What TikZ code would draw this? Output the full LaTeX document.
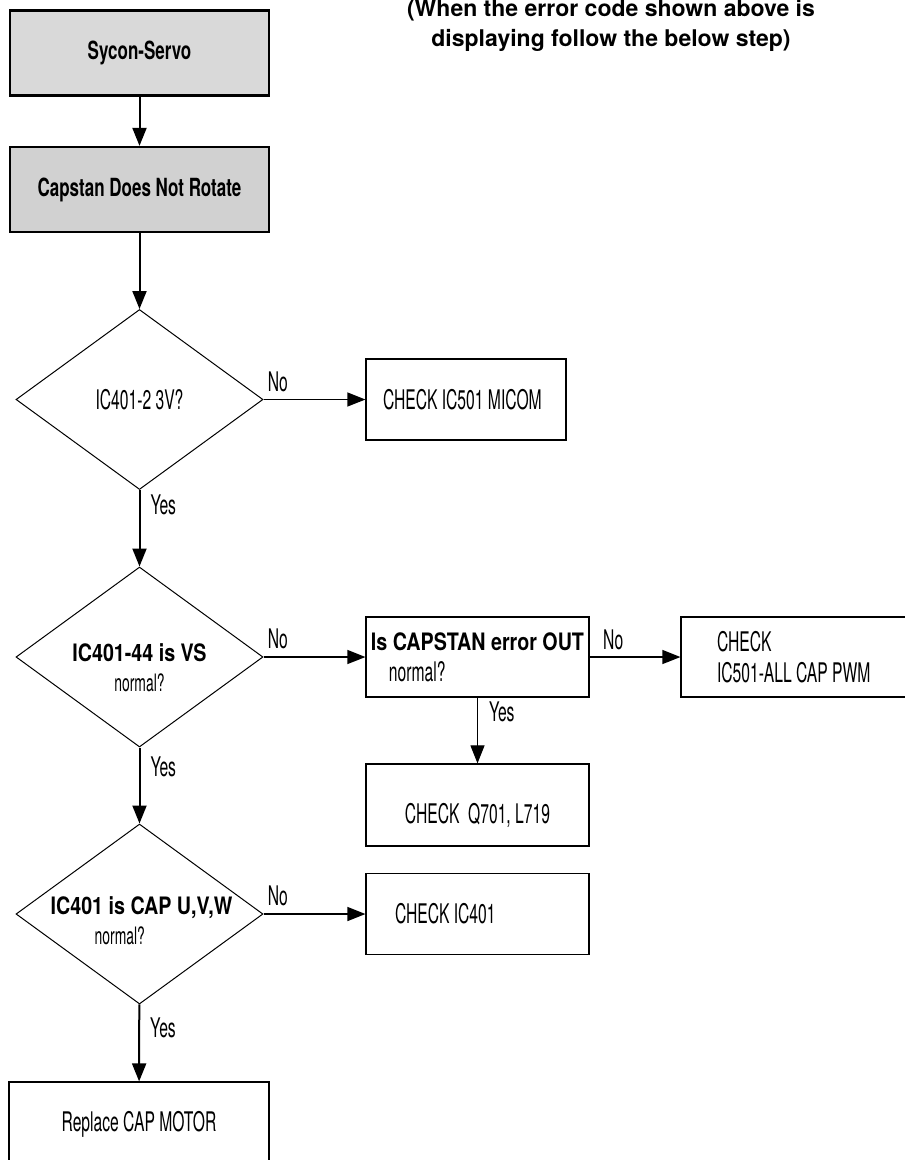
\documentclass[tikz,border=0pt]{standalone}
\usepackage{fontspec}
\setmainfont{TeX Gyre Heros}[FakeStretch=0.58]
\newfontfamily\headfont{TeX Gyre Heros}[FakeStretch=0.68]
\newfontfamily\askfont{TeX Gyre Heros}[FakeStretch=0.82]
\newfontfamily\notefont{TeX Gyre Heros}
\usetikzlibrary{arrows.meta,shapes.geometric}

\definecolor{boxgray}{RGB}{217,217,217}
\definecolor{boxgraydark}{RGB}{209,209,209}

\tikzset{
    every node/.style = {inner sep=0pt},
    startbox/.style = {draw, line width=2.3pt, minimum width=259pt, minimum height=85pt,
        font=\headfont\bfseries\fontsize{25}{30}\selectfont},
    checkbox/.style = {draw, line width=1.2pt, minimum height=81pt},
    decision/.style = {draw, diamond, line width=1pt, minimum width=247pt, minimum height=180pt},
    asktext/.style = {font=\askfont\bfseries\fontsize{24}{30}\selectfont},
    flow/.style = {-{Triangle[length=18pt,width=14pt]}, line width=2pt},
    side/.style = {-{Triangle[length=18pt,width=14pt]}, line width=1.3pt}
}

\begin{document}
\begin{tikzpicture}[x=1pt, y=-1pt, font=\fontsize{27}{31}\selectfont]
            \useasboundingbox (0,0) rectangle (905,1160);
            \node [font=\notefont\bfseries\fontsize{23}{30}\selectfont, align=flush center, anchor=north] (note) at (611,-1)
                {(When the error code shown above is\\displaying follow the below step)};

            \node [startbox, fill=boxgray] (sycon) at (139.5,53) {Sycon-Servo};
            \node [startbox, fill=boxgraydark] (capstan) at (139.5,189.5) {Capstan Does Not Rotate};

            % left column: three checks
            \node [decision] (q1) at (139.5,399.5) {IC401-2 3V?};
            \node [decision] (q2) at (139.5,657) {};
            \node [asktext, align=flush center] (q2text) at (139.5,668) {IC401-44 is VS\\\normalfont normal?};
            \node [decision] (q3) at (139.5,914) {};
            \node [asktext, align=flush left] (q3text) at (141.5,921) {IC401 is CAP U,V,W\\\normalfont\hspace*{44pt}normal?};
            \node [checkbox, minimum width=260pt, minimum height=84pt] (motor) at (139,1124) {Replace CAP MOTOR};

            % right side
            \node [checkbox, minimum width=200pt, text width=166pt, align=flush left] (micom) at (466,399.5) {CHECK IC501 MICOM};
            \node [checkbox, minimum width=223pt, minimum height=80pt, align=flush left] (caperr) at (477.5,657)
                {{\askfont\bfseries\fontsize{24}{30}\selectfont Is CAPSTAN error OUT}\\\hspace*{18pt}normal?};
            \node [checkbox, minimum width=260pt, minimum height=80pt, text width=188pt, align=flush left] (pwm) at (811,657)
                {CHECK\\IC501-ALL CAP PWM};
            \node [checkbox, minimum width=223pt, minimum height=82pt, text height=36pt, text depth=0pt] (q701) at (477.5,805)
                {CHECK\ \ Q701, L719};
            \node [checkbox, minimum width=223pt, text width=165pt, align=flush left] (ic401) at (477.5,914) {CHECK IC401};

            \draw [flow] (sycon) -- (capstan);
            \draw [flow] (capstan) -- (q1);
            \draw [flow] (q1) -- node [pos=0.19, right=10pt] {Yes} (q2);
            \draw [flow] (q2) -- node [pos=0.25, right=10pt] {Yes} (q3);
            \draw [flow] (q3) -- node [pos=0.3, right=10pt] {Yes} (motor);
            \draw [side] (q1) -- node [pos=0.14, above=7pt] {No} (micom);
            \draw [side] (q2) -- node [pos=0.14, above=7pt] {No} (caperr);
            \draw [side] (q3) -- node [pos=0.14, above=7pt] {No} (ic401);
            \draw [side] (caperr) -- node [pos=0.26, above=6pt] {No} (pwm);
            \draw [side, line width=1pt] (caperr) -- node [pos=0.22, right=11pt] {Yes} (q701);
        \end{tikzpicture}
\end{document}
